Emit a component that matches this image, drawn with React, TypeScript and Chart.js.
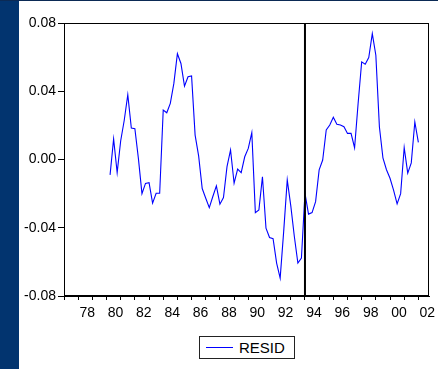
import React, { useEffect, useRef } from "react";
import { Chart, registerables } from "chart.js";

Chart.register(...registerables);

const SERIES_LABEL = "RESID";
// first observation: 1980Q2, quarterly data
const FIRST_OBS_YEAR = 1980;
const FIRST_OBS_QUARTER = 2;
const RESID = [
  -0.009, 0.012, -0.0077, 0.011, 0.023, 0.038, 0.0184, 0.018, 0.0005, -0.02,
  -0.014, -0.0136, -0.0256, -0.0198, -0.0198, 0.029, 0.0274, 0.0329, 0.0446, 0.062,
  0.0563, 0.043, 0.0485, 0.049, 0.0143, 0.002, -0.017, -0.0227, -0.0282, -0.0217,
  -0.0155, -0.0262, -0.0223, -0.0042, 0.0056, -0.0139, -0.0056, -0.0077, 0.0016, 0.0065,
  0.0157, -0.0311, -0.0295, -0.0101, -0.0402, -0.0457, -0.0464, -0.0607, -0.0695, -0.042,
  -0.012, -0.0272, -0.0451, -0.0607, -0.0578, -0.0198, -0.032, -0.0311, -0.0247, -0.0061,
  -0.0003, 0.0173, 0.0202, 0.0247, 0.0206, 0.0202, 0.0192, 0.0153, 0.0153, 0.0069,
  0.033, 0.0572, 0.0558, 0.0598, 0.0738, 0.0611, 0.0192, 0.001, -0.006, -0.011,
  -0.018, -0.026, -0.02, 0.007, -0.008, -0.002, 0.022, 0.01,
];
const Y_MIN = -0.08;
const Y_MAX = 0.08;
const Y_STEP = 0.04;
const X_MIN = 1977;
const X_MAX = 2002.75;
const BREAK_YEAR = 1994;

const FONT = "'Liberation Sans', Arial, sans-serif";

export default function App() {
  const ref = useRef<HTMLCanvasElement | null>(null);

  useEffect(() => {
    if (!ref.current) return;
    const start = FIRST_OBS_YEAR + (FIRST_OBS_QUARTER - 1) / 4;
    const points = RESID.map((y, i) => ({ x: start + i * 0.25, y }));

    const framePlugin = {
      id: "frame",
      afterDatasetsDraw(chart: any) {
        const { ctx, chartArea: a, scales } = chart;
        ctx.save();
        ctx.strokeStyle = "#000";
        ctx.lineWidth = 1;
        ctx.strokeRect(a.left + 0.5, a.top + 0.5, a.right - a.left - 1, a.bottom - a.top - 1);
        const x = scales.x.getPixelForValue(BREAK_YEAR);
        ctx.lineWidth = 2;
        ctx.beginPath();
        ctx.moveTo(x, a.top);
        ctx.lineTo(x, a.bottom);
        ctx.stroke();
        ctx.restore();
      },
    };

    const chart = new Chart(ref.current, {
      type: "line",
      data: {
        datasets: [
          {
            label: SERIES_LABEL,
            data: points,
            borderColor: "#0000ff",
            borderWidth: 1.1,
            pointRadius: 0,
            tension: 0,
            fill: false,
          },
        ],
      },
      options: {
        responsive: false,
        animation: false,
        events: [],
        layout: { padding: { top: 22, right: 9, bottom: 0, left: 0 } },
        plugins: { legend: { display: false }, tooltip: { enabled: false } },
        scales: {
          x: {
            type: "linear",
            min: X_MIN,
            max: X_MAX,
            afterFit: (s: any) => {
              s.height = 73;
            },
            afterBuildTicks: (s: any) => {
              const t = [];
              for (let y = Math.ceil(X_MIN); y <= Math.floor(X_MAX); y++) t.push({ value: y });
              s.ticks = t;
            },
            grid: {
              drawOnChartArea: false,
              drawTicks: true,
              tickLength: 4,
              color: "#000",
            },
            border: { display: true, color: "#000", width: 1 },
            ticks: {
              autoSkip: false,
              maxRotation: 0,
              minRotation: 0,
              labelOffset: 9,
              padding: 5,
              color: "#000",
              font: { family: FONT, size: 14 },
              callback: (v: any) => {
                const n = Math.round(Number(v));
                return n % 2 === 0 ? String(n % 100).padStart(2, "0") : "";
              },
            },
          },
          y: {
            min: Y_MIN,
            max: Y_MAX,
            afterFit: (s: any) => {
              s.width = 45;
            },
            grid: {
              drawOnChartArea: false,
              drawTicks: true,
              tickLength: 6,
              color: "#000",
            },
            border: { display: true, color: "#000", width: 1 },
            ticks: {
              stepSize: Y_STEP,
              padding: 2,
              color: "#000",
              font: { family: FONT, size: 14 },
              callback: (v: any) => Number(v).toFixed(2),
            },
          },
        },
      },
      plugins: [framePlugin],
    });
    return () => chart.destroy();
  }, []);

  return (
    <div
      style={{
        position: "fixed",
        left: 0,
        top: 0,
        width: 438,
        height: 369,
        background: "#ffffff",
        overflow: "hidden",
      }}
    >
      <div style={{ position: "absolute", left: 0, top: 0, width: 19, height: 369, background: "#02346f" }} />
      <div style={{ position: "absolute", left: 0, top: 0, width: 438, height: 1, background: "#0b2a55" }} />
      <canvas
        ref={ref}
        width={419}
        height={368}
        style={{ position: "absolute", left: 19, top: 1, width: 419, height: 368 }}
      />
      <div
        style={{
          position: "absolute",
          left: 199,
          top: 336,
          width: 96,
          height: 23,
          boxSizing: "border-box",
          border: "1px solid #222",
          background: "#fff",
        }}
      >
        <div style={{ position: "absolute", left: 6, top: 10, width: 27, height: 1, background: "#0000ff" }} />
        <div
          style={{
            position: "absolute",
            left: 39,
            top: 1,
            lineHeight: "19px",
            fontFamily: FONT,
            fontSize: 15,
            color: "#000",
          }}
        >
          {SERIES_LABEL}
        </div>
      </div>
    </div>
  );
}
